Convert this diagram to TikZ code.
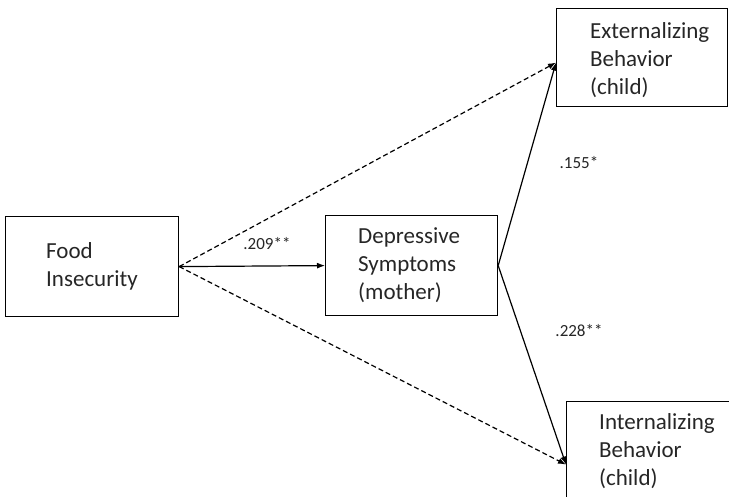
\documentclass[tikz,border=0pt]{standalone}
\usepackage{fontspec}
\setmainfont{Carlito}
\usetikzlibrary{arrows.meta}
\begin{document}
\begin{tikzpicture}[x=1pt,y=-1pt,
  box/.style={draw, line width=1.2pt, minimum width=#1, inner sep=0pt, anchor=north west},
  box/.default=172pt,
  txt/.style={anchor=west, align=left, inner sep=0pt, font=\fontsize{23}{28}\selectfont, text=black!85},
  coef/.style={inner sep=0pt, font=\fontsize{17}{20}\selectfont, text=black!85},
  path/.style={line width=1.2pt, -{Latex[length=8pt,width=6pt]}},
  dpath/.style={path, dash pattern=on 5pt off 3pt}]
\useasboundingbox (0,0) rectangle (729,497);
% boxes
\node[box=173pt, minimum height=100pt] (food) at (5,216) {};
\node[box=172pt, minimum height=100pt] (dep) at (325,215) {};
\node[box=171pt, minimum height=98pt] (ext) at (556,8) {};
\node[box=180pt, minimum height=110pt] (int) at (566,401) {};
% texts
\node[txt] (foodt) at (46,266) {Food\\Insecurity};
\node[txt] (dept) at (358,265) {Depressive\\Symptoms\\(mother)};
\node[txt] (extt) at (590,60) {Externalizing\\Behavior\\(child)};
\node[txt] (intt) at (599,451) {Internalizing\\Behavior\\(child)};
% anchor points
\coordinate (fo) at (food.east);
\coordinate (di) at (dep.west);
\coordinate (do) at (dep.east);
\coordinate (ei) at ([yshift=-5pt]ext.west);
\coordinate (ii) at ([yshift=-8pt]int.west);
% connectors
\draw[path] (fo) -- (di);
\draw[dpath] (fo) -- (ei);
\draw[dpath] (fo) -- (ii);
\draw[path] (do) -- (ei);
\draw[path] (do) -- (ii);
% coefficients
\node[coef] (c1) at (267,244) {.209**};
\node[coef] (c2) at (579,163) {.155*};
\node[coef] (c3) at (579,331) {.228**};
\end{tikzpicture}
\end{document}
